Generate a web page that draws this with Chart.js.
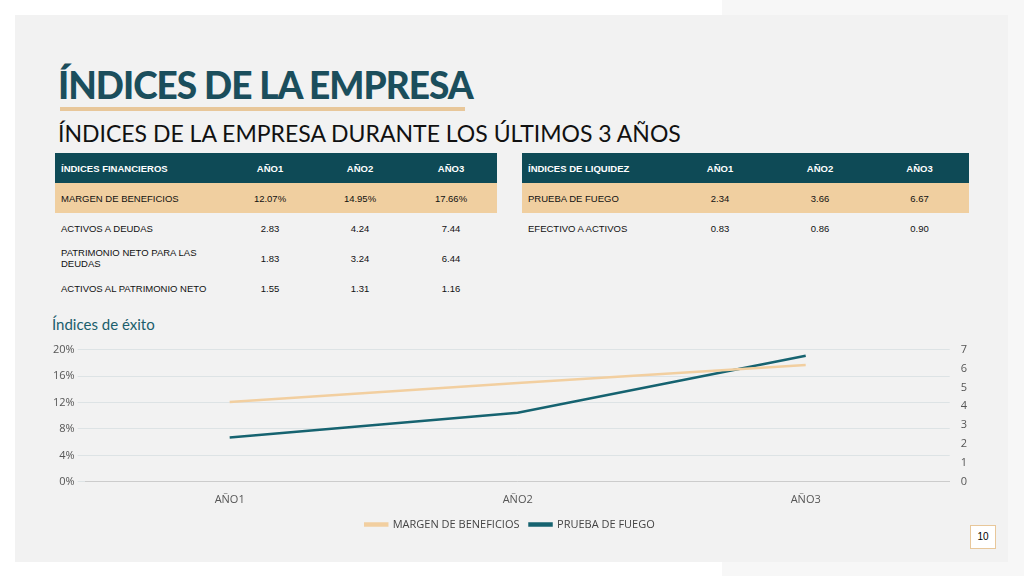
<!DOCTYPE html>
<html><head><meta charset="utf-8">
<script src="https://cdn.jsdelivr.net/npm/chart.js@4"></script>
<style>
body{margin:0;width:1024px;height:576px;background:#fff;font-family:"Liberation Sans",Arial,sans-serif;position:relative;overflow:hidden}
#bg{position:absolute;left:15px;top:15px;width:993px;height:547px;background:#f2f2f2}
#strip{position:absolute;left:722px;top:0;width:302px;height:576px;background:#f7f7f7}
#title{position:absolute;left:58px;top:62px;font-family:"Lato","Open Sans",sans-serif;font-weight:900;font-size:37px;color:#1b4e5c;letter-spacing:-1px}
#bar{position:absolute;left:60px;top:107px;width:405px;height:4px;background:#e8c79a}
#sub{position:absolute;left:58px;top:119px;font-family:"Lato",sans-serif;font-size:23px;color:#111}
table{position:absolute;border-collapse:collapse;font-size:9.5px;color:#111}
td{height:30px;padding:0 6px;text-align:center}
td:first-child{text-align:left}
tr.h td{background:#0e4a56;color:#fff;font-weight:bold}
tr.t td{background:#f0cfa0}
#sec{position:absolute;left:52px;top:315px;font-family:"Lato",sans-serif;font-size:15px;color:#1b5e6c}
#cw{position:absolute;left:40px;top:340px;width:940px;height:200px}
#pg{position:absolute;left:970px;top:525px;width:24px;height:22px;border:1px solid #e8c79a;background:#fff;font-size:10px;text-align:center;line-height:22px}
</style></head><body>
<div id="strip"></div><div id="bg"></div>
<div id="title">ÍNDICES DE LA EMPRESA</div><div id="bar"></div>
<div id="sub">ÍNDICES DE LA EMPRESA DURANTE LOS ÚLTIMOS 3 AÑOS</div>
<table style="left:55px;top:153px;width:442px">
<colgroup><col style="width:170px"><col style="width:90px"><col style="width:90px"><col style="width:92px"></colgroup>
<tr class="h"><td>ÍNDICES FINANCIEROS</td><td>AÑO1</td><td>AÑO2</td><td>AÑO3</td></tr>
<tr class="t"><td>MARGEN DE BENEFICIOS</td><td>12.07%</td><td>14.95%</td><td>17.66%</td></tr>
<tr><td>ACTIVOS A DEUDAS</td><td>2.83</td><td>4.24</td><td>7.44</td></tr>
<tr><td>PATRIMONIO NETO PARA LAS DEUDAS</td><td>1.83</td><td>3.24</td><td>6.44</td></tr>
<tr><td>ACTIVOS AL PATRIMONIO NETO</td><td>1.55</td><td>1.31</td><td>1.16</td></tr>
</table>
<table style="left:522px;top:153px;width:447px">
<colgroup><col style="width:148px"><col style="width:100px"><col style="width:100px"><col style="width:99px"></colgroup>
<tr class="h"><td>ÍNDICES DE LIQUIDEZ</td><td>AÑO1</td><td>AÑO2</td><td>AÑO3</td></tr>
<tr class="t"><td>PRUEBA DE FUEGO</td><td>2.34</td><td>3.66</td><td>6.67</td></tr>
<tr><td>EFECTIVO A ACTIVOS</td><td>0.83</td><td>0.86</td><td>0.90</td></tr>
</table>
<div id="sec">Índices de éxito</div>
<div id="cw"><canvas id="c"></canvas></div>
<div id="pg">10</div>
<script>
const categories=["AÑO1","AÑO2","AÑO3"];
const margen=[12.07,14.95,17.66];
const prueba=[2.34,3.66,6.67];
new Chart(document.getElementById('c'),{type:'line',
data:{labels:categories,datasets:[
{label:'MARGEN DE BENEFICIOS',data:margen,borderColor:'#f2cfa0',backgroundColor:'#f2cfa0',borderWidth:2.5,pointRadius:0,yAxisID:'y',tension:0},
{label:'PRUEBA DE FUEGO',data:prueba,borderColor:'#166370',backgroundColor:'#166370',borderWidth:2.5,pointRadius:0,yAxisID:'y1',tension:0}]},
options:{responsive:true,maintainAspectRatio:false,animation:false,
layout:{padding:{left:10,right:10}},
plugins:{legend:{position:'bottom',labels:{boxWidth:22,boxHeight:2,color:'#444',font:{family:'Open Sans',size:11}}}},
scales:{
x:{offset:true,grid:{display:false},border:{color:'#ccc'},ticks:{color:'#555',font:{family:'Open Sans',size:11}}},
y:{min:0,max:20,ticks:{stepSize:4,callback:v=>v+'%',color:'#555',font:{family:'Open Sans',size:11}},grid:{color:'#dde3e5'},border:{display:false}},
y1:{position:'right',min:0,max:7,ticks:{stepSize:1,color:'#555',font:{family:'Open Sans',size:11}},grid:{display:false},border:{display:false}}
}}});
</script></body></html>
